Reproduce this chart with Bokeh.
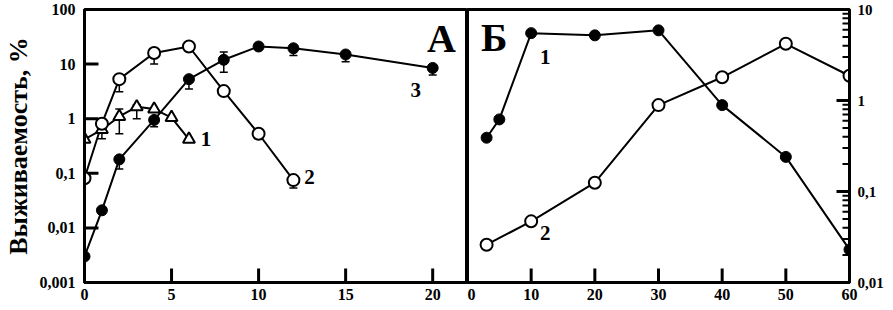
from bokeh.plotting import figure
from bokeh.layouts import row
from bokeh.models import (Range1d, FixedTicker, ColumnDataSource, Whisker, TeeHead, Label)
from bokeh.embed import file_html
from bokeh.resources import INLINE

# ---------------- data: panel A ----------------
A_x1 = [0, 1, 2, 3, 4, 5, 6]
A_y1 = [0.42, 0.63, 1.1, 1.65, 1.5, 1.05, 0.42]
A_x2 = [0, 1, 2, 4, 6, 8, 10, 12]
A_y2 = [0.081, 0.81, 5.3, 16, 21, 3.2, 0.53, 0.075]
A_x3 = [0, 1, 2, 4, 6, 8, 10, 12, 15, 20]
A_y3 = [0.003, 0.021, 0.18, 0.95, 5.3, 12, 21, 19.5, 15, 8.5]

A_err1_x = [1, 2, 3]
A_err1_lo = [0.43, 0.53, 1.0]
A_err1_hi = [0.63, 1.5, 1.8]
A_err2_x = [2, 4, 12]
A_err2_lo = [3.1, 10, 0.054]
A_err2_hi = [5.3, 16, 0.075]
A_err3_x = [2, 4, 6, 8, 12, 15, 20]
A_err3_lo = [0.12, 0.71, 3.5, 7.1, 14.4, 11, 6.3]
A_err3_hi = [0.18, 0.95, 5.3, 16.6, 19.5, 15, 8.5]

A_xticks = [0, 5, 10, 15, 20]
A_yticks = [0.001, 0.01, 0.1, 1, 10, 100]
A_ylabels = ["0,001", "0,01", "0,1", "1", "10", "100"]

# ---------------- data: panel Б ----------------
B_x1 = [3, 5, 10, 20, 30, 40, 50, 60]
B_y1 = [0.39, 0.62, 5.5, 5.2, 5.9, 0.89, 0.24, 0.023]
B_x2 = [3, 10, 20, 30, 40, 50, 60]
B_y2 = [0.026, 0.047, 0.125, 0.89, 1.8, 4.2, 1.87]

B_xticks = [0, 10, 20, 30, 40, 50, 60]
B_yticks = [0.01, 0.1, 1, 10]
B_ylabels = ["0,01", "0,1", "1", "10"]
B_yminor = [m * 10.0 ** e for e in (-2, -1, 0) for m in range(2, 10)]

A_XMAX = 22
FONT = "Liberation Serif"
TICK = "black"

# layout (pixels)
H = 310
TOP, BOTTOM = 9, 28
W1, LEFT1 = 467, 83
W2, RIGHT2 = 426, 44
FH = H - TOP - BOTTOM
FW1 = W1 - LEFT1
FW2 = W2 - RIGHT2


def style_axis(ax, size="16px"):
    ax.axis_line_width = 3
    ax.axis_line_color = "black"
    ax.major_tick_in = 0
    ax.major_tick_out = 0
    ax.minor_tick_in = 0
    ax.minor_tick_out = 0
    ax.major_label_text_font = FONT
    ax.major_label_text_font_style = "bold"
    ax.major_label_text_font_size = size
    ax.major_label_text_color = "black"


def base_fig(**kw):
    p = figure(output_backend="svg", toolbar_location=None, y_axis_type="log",
               min_border_top=TOP, min_border_bottom=BOTTOM, height=H, **kw)
    p.xgrid.visible = False
    p.ygrid.visible = False
    p.outline_line_color = "black"
    p.outline_line_width = 3
    p.outline_line_alpha = 1
    p.background_fill_color = "white"
    p.border_fill_color = "white"
    return p


def add_err(p, xs, lo, hi):
    src = ColumnDataSource(dict(x=xs, lo=lo, hi=hi))
    w = Whisker(base="x", lower="lo", upper="hi", source=src, line_width=1.5,
                line_color="black",
                upper_head=TeeHead(size=8, line_width=1.5, line_color="black"),
                lower_head=TeeHead(size=8, line_width=1.5, line_color="black"))
    p.add_layout(w)


# ---------------- panel A ----------------
p1 = base_fig(width=W1, x_range=Range1d(0, A_XMAX),
              y_range=Range1d(A_yticks[0], A_yticks[-1]),
              min_border_left=LEFT1, min_border_right=0)

style_axis(p1.xaxis[0])
style_axis(p1.yaxis[0])
p1.xaxis.ticker = FixedTicker(ticks=A_xticks)
p1.xaxis.major_label_standoff = 6
p1.yaxis.ticker = FixedTicker(ticks=A_yticks)
p1.yaxis.major_label_overrides = dict(zip(A_yticks, A_ylabels))
p1.yaxis.major_label_standoff = 9
p1.yaxis.axis_label = "Выживаемость, %"
p1.yaxis.axis_label_text_font = FONT
p1.yaxis.axis_label_text_font_style = "bold"
p1.yaxis.axis_label_text_font_size = "26px"
p1.yaxis.axis_label_text_color = "black"
p1.yaxis.axis_label_standoff = 4

# inner tick marks (pixel lengths converted to data units)
dec1 = FH / 5.0
unit1 = FW1 / A_XMAX
ly = A_yticks[1:-1]
p1.segment(x0=[A_xticks[0]] * len(ly), y0=ly, x1=[14 / unit1] * len(ly), y1=ly,
           line_color=TICK, line_width=3)
lx = A_xticks[1:]
p1.segment(x0=lx, y0=[A_yticks[0]] * len(lx), x1=lx,
           y1=[A_yticks[0] * 10 ** (14 / dec1)] * len(lx),
           line_color=TICK, line_width=3)

add_err(p1, A_err1_x, A_err1_lo, A_err1_hi)
add_err(p1, A_err2_x, A_err2_lo, A_err2_hi)
add_err(p1, A_err3_x, A_err3_lo, A_err3_hi)

p1.line(A_x1, A_y1, line_color="black", line_width=2)
p1.line(A_x2, A_y2, line_color="black", line_width=2)
p1.line(A_x3, A_y3, line_color="black", line_width=2)
p1.scatter(A_x1, A_y1, marker="triangle", size=12, fill_color="white",
           line_color="black", line_width=2)
p1.scatter(A_x2, A_y2, marker="circle", size=12, fill_color="white",
           line_color="black", line_width=2)
p1.scatter(A_x3, A_y3, marker="circle", size=11, fill_color="black",
           line_color="black", line_width=1)

lab_kw = dict(text_font=FONT, text_font_style="bold", text_color="black",
              text_align="center", text_baseline="middle")
p1.add_layout(Label(x=A_x1[-1], y=A_y1[-1], x_offset=17, y_offset=0,
                    text="1", text_font_size="21px", **lab_kw))
p1.add_layout(Label(x=A_x2[-1], y=A_y2[-1], x_offset=16, y_offset=3,
                    text="2", text_font_size="21px", **lab_kw))
p1.add_layout(Label(x=A_x3[-1], y=A_y3[-1], x_offset=-17, y_offset=-22,
                    text="3", text_font_size="21px", **lab_kw))
p1.add_layout(Label(x=20.5, y=30, text="А", text_font_size="40px", **lab_kw))

# ---------------- panel Б ----------------
p2 = base_fig(width=W2, x_range=Range1d(B_xticks[0], B_xticks[-1]),
              y_range=Range1d(B_yticks[0], B_yticks[-1]),
              y_axis_location="right", min_border_left=0, min_border_right=RIGHT2)

style_axis(p2.xaxis[0])
style_axis(p2.yaxis[0], size="15px")
p2.xaxis.ticker = FixedTicker(ticks=B_xticks)
p2.xaxis.major_label_standoff = 6
p2.yaxis.ticker = FixedTicker(ticks=B_yticks)
p2.yaxis.major_label_overrides = dict(zip(B_yticks, B_ylabels))
p2.yaxis.major_label_standoff = 8

dec2 = FH / 3.0
unit2 = FW2 / B_xticks[-1]
bx = B_xticks[1:-1]
p2.segment(x0=bx, y0=[B_yticks[0]] * len(bx), x1=bx,
           y1=[B_yticks[0] * 10 ** (14 / dec2)] * len(bx),
           line_color=TICK, line_width=3)
ry = B_yticks[1:-1]
xr = B_xticks[-1]
p2.segment(x0=[xr] * len(ry), y0=ry, x1=[xr - 13 / unit2] * len(ry), y1=ry,
           line_color=TICK, line_width=3)
p2.segment(x0=[xr] * len(B_yminor), y0=B_yminor,
           x1=[xr - 7 / unit2] * len(B_yminor), y1=B_yminor,
           line_color=TICK, line_width=2)

p2.line(B_x1, B_y1, line_color="black", line_width=2)
p2.line(B_x2, B_y2, line_color="black", line_width=2)
p2.scatter(B_x2, B_y2, marker="circle", size=12, fill_color="white",
           line_color="black", line_width=2)
p2.scatter(B_x1, B_y1, marker="circle", size=11, fill_color="black",
           line_color="black", line_width=1)

p2.add_layout(Label(x=B_x1[2], y=B_y1[2], x_offset=14, y_offset=-24,
                    text="1", text_font_size="21px", **lab_kw))
p2.add_layout(Label(x=B_x2[1], y=B_y2[1], x_offset=14, y_offset=-12,
                    text="2", text_font_size="21px", **lab_kw))
p2.add_layout(Label(x=4.2, y=4.9, text="Б", text_font_size="40px", **lab_kw))

layout = row(p1, p2)
open("out.html", "w").write(file_html(layout, INLINE))
